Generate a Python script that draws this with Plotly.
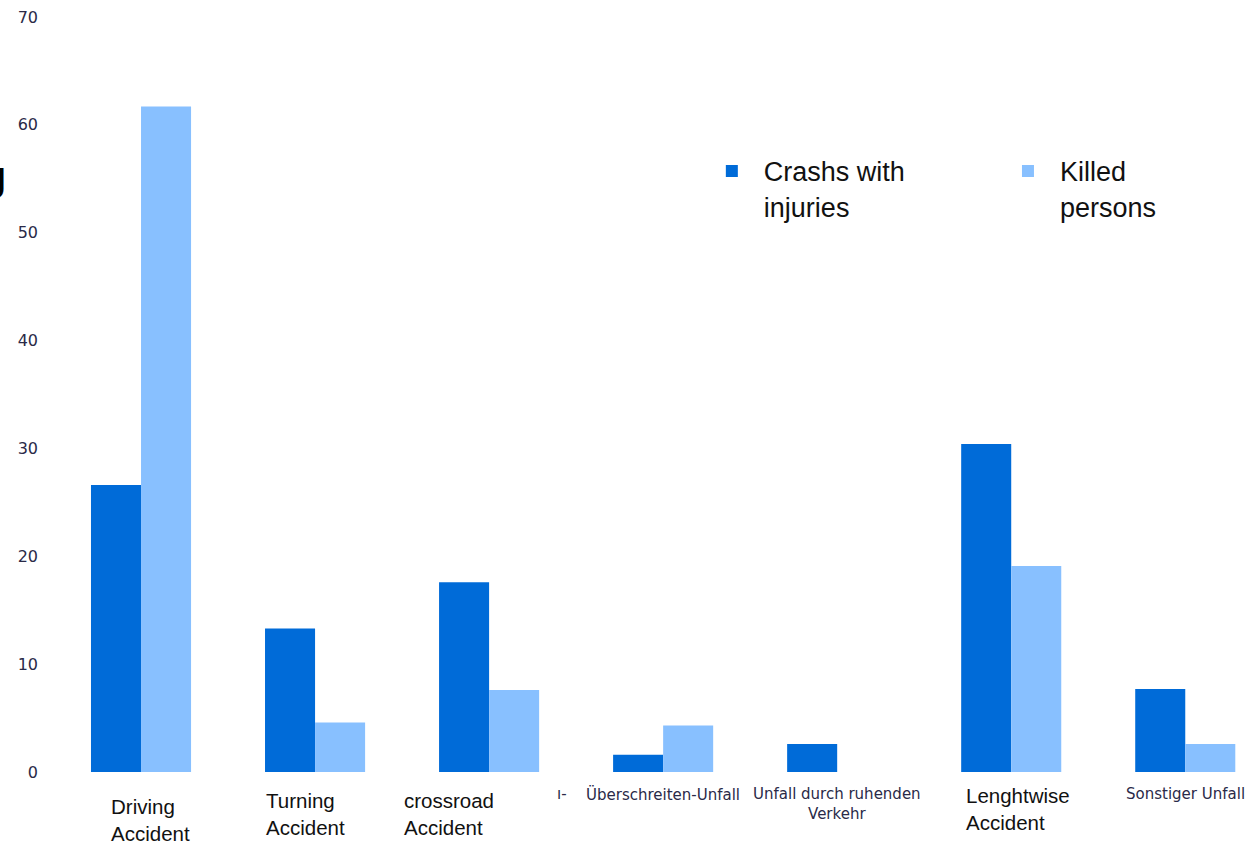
import plotly.graph_objects as go

categories = ["Driving<br>Accident", "Turning<br>Accident", "crossroad<br>Accident",
              "Überschreiten-Unfall", "Unfall durch ruhenden<br>Verkehr",
              "Lenghtwise<br>Accident", "Sonstiger Unfall"]
crashes_with_injuries = [26.6, 13.3, 17.6, 1.6, 2.6, 30.4, 7.7]
killed_persons = [61.7, 4.6, 7.6, 4.3, None, 19.1, 2.6]
y_ticks = [0, 10, 20, 30, 40, 50, 60, 70]
series_names = ["Crashs with<br>injuries", "Killed<br>persons"]

# label styling: (x offset in category units, top y in paper units, font kind)
label_style = [
    (0.057, -0.0278, "en"), (-0.057, -0.0198, "en"), (-0.23, -0.0198, "en"),
    (0.0, -0.0146, "de"), (0.0, -0.0146, "de"), (0.04, -0.0132, "en"), (0.0, -0.0146, "de"),
]

DARK = "#006BD8"
LIGHT = "#88C0FF"
x_idx = list(range(len(categories)))

fig = go.Figure()
fig.add_bar(x=x_idx, y=crashes_with_injuries, name=series_names[0], marker_color=DARK,
            marker_line_width=0, legend="legend")
fig.add_bar(x=x_idx, y=killed_persons, name=series_names[1], marker_color=LIGHT,
            marker_line_width=0, legend="legend2")

en_font = dict(family="Liberation Sans, Arial, sans-serif", size=20.5, color="#111111")
de_font = dict(family="DejaVu Sans, sans-serif", size=15, color="#2a2a48")
for i, (cat, (dx, ty, kind)) in enumerate(zip(categories, label_style)):
    fig.add_annotation(
        x=i + dx, y=ty, xref="x", yref="paper", text=cat, showarrow=False,
        xanchor="center", yanchor="top",
        align="left" if kind == "en" else "center",
        font=en_font if kind == "en" else de_font,
    )

# cut-off fragments at edges of the original picture
fig.add_annotation(x=2.46, y=-0.0146, xref="x", yref="paper", text="ı-", showarrow=False,
                   xanchor="right", yanchor="top", font=de_font)
fig.add_annotation(x=-0.0385, y=0.78, xref="paper", yref="paper", text="<b>J</b>",
                   showarrow=False, xanchor="right", yanchor="middle",
                   font=dict(family="Liberation Sans, Arial", size=44, color="#000000"))

legend_font = dict(family="Liberation Sans, Arial, sans-serif", size=27, color="#111111")
common_legend = dict(xanchor="left", yanchor="top", valign="top", itemwidth=54,
                     font=legend_font, bgcolor="rgba(0,0,0,0)", itemclick=False,
                     itemdoubleclick=False)

fig.update_layout(
    width=1250, height=852,
    margin=dict(l=54, r=0, t=17, b=80),
    paper_bgcolor="white", plot_bgcolor="white",
    barmode="group", bargap=0.425, bargroupgap=0,
    showlegend=True,
    legend=dict(x=0.540, y=0.828, **common_legend),
    legend2=dict(x=0.7876, y=0.828, **common_legend),
    xaxis=dict(range=[-0.5, 6.372], showticklabels=False, showgrid=False,
               zeroline=False, showline=False, ticks=""),
    yaxis=dict(range=[0, 70], tickvals=y_ticks, showgrid=False, zeroline=False,
               showline=False, ticks="", ticklabelstandoff=15,
               tickfont=dict(family="DejaVu Sans, sans-serif", size=16, color="#2a2a48")),
)

fig.write_html("out.html")
